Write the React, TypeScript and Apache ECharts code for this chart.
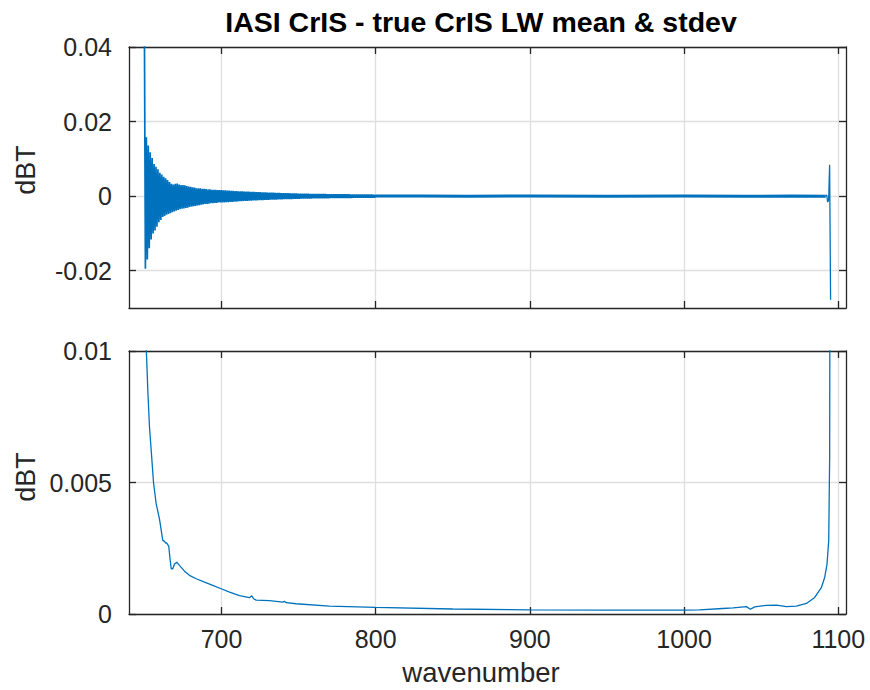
import React, { useEffect, useRef } from "react";
import * as echarts from "echarts";

// ---- axis ticks ----
const xTicks = [700, 800, 900, 1000, 1100];
const topYTicks = [-0.02, 0, 0.02, 0.04];
const bottomYTicks = [0, 0.005, 0.01];

// ---- mean (top panel): channel grid 650 + 0.625*i ----
const meanStart = 650;
const meanStep = 0.625;
const meanDense = [
  0.045, -0.0195, 0.0158, -0.017, 0.0136, -0.014, 0.0118, -0.0116, 0.0102, -0.01,
  0.0086, -0.0092, 0.0079, -0.0082, 0.0072, -0.007, 0.0063, -0.0064, 0.0058, -0.0056,
  0.0052, -0.0053, 0.0048, -0.005, 0.0043, -0.0048, 0.0038, -0.0046, 0.0033, -0.0043,
  0.0031, -0.0041, 0.0033, -0.0039, 0.0034, -0.0037, 0.0031, -0.0035, 0.003, -0.0034,
  0.003, -0.0033, 0.0029, -0.0032, 0.0027, -0.0031, 0.0026, -0.0029, 0.0025, -0.0028,
  0.0024, -0.0027, 0.0023, -0.0026, 0.0021, -0.0025, 0.0021, -0.0024, 0.0021, -0.0023,
  0.002, -0.0022, 0.002, -0.0021, 0.0019, -0.0021, 0.0018, -0.002, 0.0018, -0.0019,
  0.0017, -0.0019, 0.0017, -0.0018, 0.0017, -0.0018, 0.0016, -0.0017, 0.0016, -0.0017,
  0.0016, -0.0017, 0.00158, -0.00166, 0.00155, -0.00163, 0.00152, -0.0016, 0.00148, -0.00156,
  0.00145, -0.00152, 0.00142, -0.00148, 0.00138, -0.00145, 0.00135, -0.00141, 0.00132, -0.00138,
  0.0013, -0.00134, 0.00127, -0.00131, 0.00124, -0.00128, 0.00122, -0.00125, 0.00119, -0.00122,
  0.00116, -0.00119, 0.00114, -0.00116, 0.00112, -0.00114, 0.0011, -0.00112, 0.00108, -0.0011,
  0.00106, -0.00107, 0.00104, -0.00105, 0.00102, -0.00103, 0.001, -0.00101, 0.00098, -0.00099,
  0.00096, -0.00097, 0.00094, -0.00095, 0.00092, -0.00093, 0.0009, -0.00091, 0.00088, -0.00089,
  0.00086, -0.00087, 0.00084, -0.00085, 0.00082, -0.00083, 0.00081, -0.00081, 0.00079, -0.0008,
  0.00078, -0.00078, 0.00076, -0.00077, 0.00075, -0.00075, 0.00073, -0.00074, 0.00072, -0.00072,
  0.0007, -0.00071, 0.00069, -0.00069, 0.00068, -0.00068, 0.00066, -0.00067, 0.00065, -0.00065,
  0.00064, -0.00064, 0.00062, -0.00063, 0.00061, -0.00061, 0.0006, -0.0006, 0.00059, -0.00059,
  0.00059, -0.00058, 0.00058, -0.00058, 0.00057, -0.00057, 0.00057, -0.00056, 0.00056, -0.00056,
  0.00055, -0.00055, 0.00055, -0.00054, 0.00054, -0.00054, 0.00053, -0.00053, 0.00053, -0.00052,
  0.00052, -0.00052, 0.00051, -0.00051, 0.00051, -0.0005, 0.0005, -0.0005, 0.0005, -0.0005,
  0.00049, -0.00049, 0.00049, -0.00048, 0.00048, -0.00048, 0.00047, -0.00047, 0.00047, -0.00046,
  0.00046, -0.00046, 0.00045, -0.00045, 0.00045, -0.00044, 0.00044, -0.00044, 0.00043, -0.00043,
  0.00043, -0.00042, 0.00042, -0.00042, 0.00041, -0.00041, 0.00041, -0.0004, 0.0004, -0.0004,
  0.0004,
];
const meanTailWn = [800, 830, 860, 900, 950, 1000, 1040, 1070, 1091.875];
const meanTailVal = [0.00003, 0.00002, 0, 0.00001, 0, 0.00001, 0, 0.00001, 0];
const meanEndWn = [1091.875, 1092.5, 1093.125, 1093.75, 1094.375, 1095];
const meanEndVal = [0, 0.0003, -0.0016, -0.001, 0.0084, -0.0278];

// ---- stdev (bottom panel) ----
const stdWn = [
  650, 651.2, 652.2, 653.3, 654.8, 655.9, 657.6, 659.8, 661.9, 663.0,
  663.7, 664.5, 665.8, 666.6, 667.4, 668.4, 669.5, 671.0, 672.7, 676.0,
  679.2, 683.6, 689.0, 694.3, 699.8, 705.2, 711.7, 718.1, 719.6, 720.8,
  722.5, 731.1, 739.7, 740.8, 742.0, 748.4, 770, 800, 850, 900,
  950, 1000, 1010, 1025, 1031.8, 1040.4, 1043, 1045.8, 1053.4, 1059.9,
  1066.3, 1072.8, 1079.3, 1084.7, 1089, 1091.2, 1092.7, 1093.8, 1094.4, 1095,
];
const stdVal = [
  0.03, 0.0101, 0.0085, 0.0071, 0.0059, 0.005, 0.0042, 0.0036, 0.0028, 0.00276,
  0.0027, 0.0027, 0.00257, 0.0021, 0.00172, 0.00172, 0.0019, 0.00197, 0.00185, 0.00163,
  0.00147, 0.00134, 0.00121, 0.00109, 0.00096, 0.00083, 0.0007, 0.00062, 0.00069, 0.00058,
  0.00053, 0.00051, 0.00045, 0.00048, 0.00043, 0.00039, 0.0003, 0.00025, 0.00019, 0.00016,
  0.00015, 0.00015, 0.00016, 0.00021, 0.00023, 0.00028, 0.00018, 0.00027, 0.00033, 0.00034,
  0.00028, 0.0003, 0.0004, 0.00063, 0.001, 0.0014, 0.0019, 0.0028, 0.006, 0.03,
];

const FONT = "Liberation Sans";
const AX = "#262626";
const GRIDC = "#dfdfdf";
const LINE = "#0072BD";

export default function App() {
  const ref = useRef<HTMLDivElement>(null);
  useEffect(() => {
    document.body.style.margin = "0";
    const chart = echarts.init(ref.current!, null, { renderer: "svg" });

    const meanData = meanDense.map((v, i) => [meanStart + i * meanStep, v]);
    const tailData = meanTailWn.map((w, i) => [w, meanTailVal[i]]);
    const endData = meanEndWn.map((w, i) => [w, meanEndVal[i]]);
    const stdData = stdWn.map((w, i) => [w, stdVal[i]]);

    const axisLine = { show: true, onZero: false, lineStyle: { color: AX, width: 1.3 } };
    const tick = (vals?: number[]) => ({
      show: true,
      inside: true,
      length: 7,
      lineStyle: { color: AX, width: 1.3 },
      ...(vals ? { customValues: vals } : {}),
    });
    const labelStyle = { color: AX, fontSize: 25, fontFamily: FONT };
    const split = { show: true, lineStyle: { color: GRIDC, width: 1.3 } };
    const plain = (v: number) => String(v);

    const xBase = { type: "value", min: 640, max: 1105, axisLine, splitLine: { show: false } };
    const option: any = {
      animation: false,
      backgroundColor: "#ffffff",
      grid: [
        { left: 129, top: 47, width: 717, height: 261, containLabel: false, outerBoundsMode: "none" },
        { left: 129, top: 351, width: 717, height: 263, containLabel: false, outerBoundsMode: "none" },
      ],
      xAxis: [
        { ...xBase, gridIndex: 0, position: "bottom", axisTick: tick(xTicks), axisLabel: { show: false, customValues: xTicks }, splitLine: split },
        { ...xBase, gridIndex: 0, position: "top", axisTick: tick(xTicks), axisLabel: { show: false, customValues: xTicks } },
        { ...xBase, gridIndex: 1, position: "bottom", axisTick: tick(xTicks), axisLabel: { ...labelStyle, show: true, margin: 12, customValues: xTicks, formatter: plain }, splitLine: split },
        { ...xBase, gridIndex: 1, position: "top", axisTick: tick(xTicks), axisLabel: { show: false, customValues: xTicks } },
      ],
      yAxis: [
        { type: "value", gridIndex: 0, position: "left", min: -0.03, max: 0.04, axisLine, axisTick: tick(topYTicks), axisLabel: { ...labelStyle, margin: 17, customValues: topYTicks, formatter: plain }, splitLine: split },
        { type: "value", gridIndex: 0, position: "right", min: -0.03, max: 0.04, axisLine, axisTick: tick(topYTicks), axisLabel: { show: false, customValues: topYTicks }, splitLine: { show: false } },
        { type: "value", gridIndex: 1, position: "left", min: 0, max: 0.01, axisLine, axisTick: tick(bottomYTicks), axisLabel: { ...labelStyle, margin: 17, customValues: bottomYTicks, formatter: plain }, splitLine: split },
        { type: "value", gridIndex: 1, position: "right", min: 0, max: 0.01, axisLine, axisTick: tick(bottomYTicks), axisLabel: { show: false, customValues: bottomYTicks }, splitLine: { show: false } },
      ],
      series: [
        { type: "line", xAxisIndex: 0, yAxisIndex: 0, data: meanData, showSymbol: false, symbol: "none", lineStyle: { color: LINE, width: 1.7 }, clip: true, silent: true },
        { type: "line", xAxisIndex: 0, yAxisIndex: 0, data: tailData, showSymbol: false, symbol: "none", lineStyle: { color: LINE, width: 3 }, clip: true, silent: true },
        { type: "line", xAxisIndex: 0, yAxisIndex: 0, data: endData, showSymbol: false, symbol: "none", lineStyle: { color: LINE, width: 1.3 }, clip: true, silent: true },
        { type: "line", xAxisIndex: 2, yAxisIndex: 2, data: stdData, showSymbol: false, symbol: "none", lineStyle: { color: LINE, width: 1.3 }, clip: true, silent: true },
      ],
      graphic: [
        { type: "text", x: 481, y: 22, style: { text: "IASI CrIS - true CrIS LW mean & stdev", font: `bold 28.5px "${FONT}"`, fill: "#000", textAlign: "center", textVerticalAlign: "middle" } },
        { type: "text", x: 26, y: 170, rotation: Math.PI / 2, style: { text: "dBT", font: `27px "${FONT}"`, fill: AX, textAlign: "center", textVerticalAlign: "middle" } },
        { type: "text", x: 26, y: 477, rotation: Math.PI / 2, style: { text: "dBT", font: `27px "${FONT}"`, fill: AX, textAlign: "center", textVerticalAlign: "middle" } },
        { type: "text", x: 481, y: 672, style: { text: "wavenumber", font: `27.5px "${FONT}"`, fill: AX, textAlign: "center", textVerticalAlign: "middle" } },
      ],
    };
    chart.setOption(option);
    return () => chart.dispose();
  }, []);
  return <div ref={ref} style={{ width: 870, height: 690 }} />;
}
